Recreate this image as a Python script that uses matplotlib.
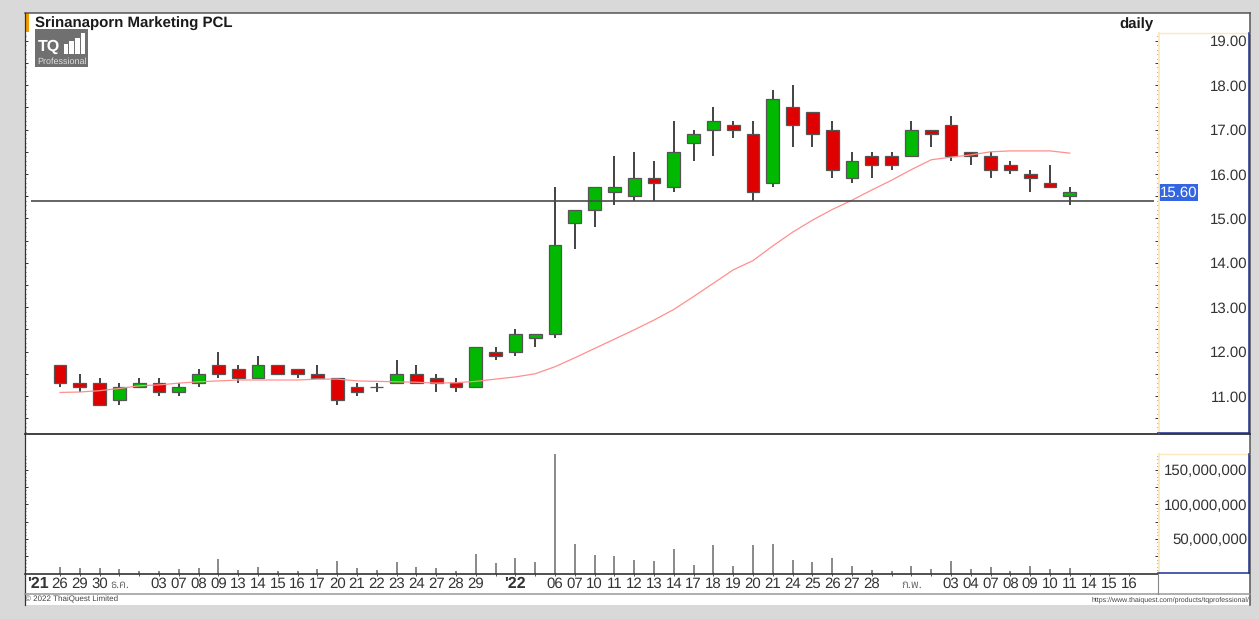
import matplotlib
matplotlib.use('Agg')
import numpy as np
import matplotlib.pyplot as plt
from matplotlib import font_manager, ft2font
from matplotlib.lines import Line2D
from matplotlib.patches import Rectangle

W, H = 1259, 619
plt.rcParams['font.family'] = ['Liberation Sans', 'Noto Sans', 'DejaVu Sans']
plt.rcParams['text.hinting'] = 'none'
plt.rcParams['text.hinting_factor'] = 1

# any installed family with Thai letters, for the month labels
thai_family = []
for f in font_manager.fontManager.ttflist:
    try:
        if 0x0E01 in ft2font.FT2Font(f.fname).get_charmap():
            thai_family.append(f.name)
    except Exception:
        pass

# daily candles, index 0 = first session
opens = [11.7, 11.3, 11.3, 10.9, 11.2, 11.3, 11.1, 11.3, 11.7, 11.6, 11.4, 11.7, 11.6, 11.5, 11.4, 11.2, 11.2, 11.3,
         11.5, 11.4, 11.3, 11.2, 12.0, 12.0, 12.3, 12.4, 14.9, 15.2, 15.6, 15.5, 15.9, 15.7, 16.7, 17.0, 17.1, 16.9,
         15.8, 17.5, 17.4, 17.0, 15.9, 16.4, 16.4, 16.4, 17.0, 17.1, 16.5, 16.4, 16.2, 16.0, 15.8, 15.5]
closes = [11.3, 11.2, 10.8, 11.2, 11.3, 11.1, 11.2, 11.5, 11.5, 11.4, 11.7, 11.5, 11.5, 11.4, 10.9, 11.1, 11.2, 11.5,
          11.3, 11.3, 11.2, 12.1, 11.9, 12.4, 12.4, 14.4, 15.2, 15.7, 15.7, 15.9, 15.8, 16.5, 16.9, 17.2, 17.0, 15.6,
          17.7, 17.1, 16.9, 16.1, 16.3, 16.2, 16.2, 17.0, 16.9, 16.4, 16.4, 16.1, 16.1, 15.9, 15.7, 15.6]
highs = [11.7, 11.5, 11.4, 11.3, 11.4, 11.4, 11.3, 11.6, 12.0, 11.7, 11.9, 11.7, 11.6, 11.7, 11.4, 11.3, 11.3, 11.8,
         11.7, 11.5, 11.4, 12.1, 12.1, 12.5, 12.4, 15.7, 15.2, 15.7, 16.4, 16.5, 16.3, 17.2, 17.0, 17.5, 17.2, 17.2,
         17.9, 18.0, 17.4, 17.2, 16.5, 16.5, 16.5, 17.2, 17.0, 17.3, 16.5, 16.5, 16.3, 16.1, 16.2, 15.7]
lows = [11.2, 11.1, 10.8, 10.8, 11.2, 11.0, 11.0, 11.2, 11.4, 11.3, 11.4, 11.5, 11.4, 11.4, 10.8, 11.0, 11.1, 11.3,
        11.3, 11.1, 11.1, 11.2, 11.8, 11.9, 12.1, 12.3, 14.3, 14.8, 15.3, 15.4, 15.4, 15.6, 16.3, 16.4, 16.8, 15.4,
        15.7, 16.6, 16.6, 15.9, 15.8, 15.9, 16.1, 16.4, 16.6, 16.3, 16.2, 15.9, 16.0, 15.6, 15.7, 15.3]
moving_avg = [11.08, 11.09, 11.12, 11.17, 11.23, 11.25, 11.29, 11.32, 11.34, 11.36, 11.36, 11.36, 11.36, 11.38, 11.38,
              11.34, 11.33, 11.32, 11.31, 11.29, 11.30, 11.33, 11.38, 11.43, 11.50, 11.66, 11.86, 12.07, 12.28, 12.49,
              12.71, 12.95, 13.24, 13.54, 13.84, 14.05, 14.38, 14.69, 14.96, 15.20, 15.41, 15.64, 15.86, 16.10, 16.32,
              16.38, 16.43, 16.50, 16.52, 16.52, 16.52, 16.47]
volumes = [10, 8, 8, 6, 4, 4, 6, 8, 21, 5, 10, 3, 4, 7, 18, 8, 5, 16, 10, 8, 3, 28, 15, 22, 16, 172, 42, 27, 25, 19, 18,
           35, 13, 41, 11, 41, 43, 20, 17, 22, 11, 5, 3, 11, 7, 18, 6, 9, 4, 11, 7, 8]
date_labels = ['26', '29', '30', '', '', '03', '07', '08', '09', '13', '14', '15', '16', '17', '20', '21', '22', '23',
               '24', '27', '28', '29', '', '', '', '06', '07', '10', '11', '12', '13', '14', '17', '18', '19', '20',
               '21', '24', '25', '26', '27', '28', '', '', '', '03', '04', '07', '08', '09', '10', '11', '14', '15',
               '16']
month_labels = {3: 'ธ.ค.', 43: 'ก.พ.'}
year_labels = {-1.1: "'21", 23: "'22"}
support = 15.4
last_price = '15.60'
price_ticks = [11, 12, 13, 14, 15, 16, 17, 18, 19]
vol_ticks = [50, 100, 150]


def fx(px):
    return px / W


def fy(py):
    return 1 - py / H


def hline(x0, x1, y, color, lw=1.0):
    fig.add_artist(Line2D([fx(x0), fx(x1)], [fy(y), fy(y)], color=color, lw=lw, transform=fig.transFigure))


def vline(x, y0, y1, color, lw=1.0):
    fig.add_artist(Line2D([fx(x), fx(x)], [fy(y0), fy(y1)], color=color, lw=lw, transform=fig.transFigure))


def box(x0, y0, x1, y1, color, zorder=1):
    fig.add_artist(Rectangle((fx(x0), fy(y1)), (x1 - x0) / W, (y1 - y0) / H, color=color, lw=0, zorder=zorder,
                             transform=fig.transFigure))


def pane(y0, y1):
    a = fig.add_axes([fx(25), fy(y1), (1158 - 25) / W, (y1 - y0) / H])
    a.patch.set_alpha(0)
    for s in a.spines.values():
        s.set_visible(False)
    # 19.8 px per session, session 0 sits at x=60
    a.set_xlim((25 - 60) / 19.8, (1158 - 60) / 19.8)
    return a


fig = plt.figure(figsize=(W / 100, H / 100), dpi=100, facecolor='#d9d9d9')
box(25, 13, 1250, 605, 'white', zorder=-1)

x = np.arange(len(opens))
opens = np.array(opens)
closes = np.array(closes)

# price pane, 44.4 px per baht with 11.00 at y=396
ax = pane(13, 433)
ax.set_ylim(11 - (433 - 396) / 44.4, 11 + (396 - 13) / 44.4)
colors = ['#00b900' if c > o else '#e00000' for o, c in zip(opens, closes)]
ax.vlines(x, lows, highs, color='#222222', lw=1.2, zorder=2)
ax.bar(x, closes - opens, bottom=opens, width=0.64, color=colors, edgecolor='#555555', lw=0.9, zorder=3)
ax.plot(x, moving_avg, color='#ff8f8f', lw=0.9, zorder=4)
ax.hlines(support, (31 - 60) / 19.8, (1154 - 60) / 19.8, color='#4a4a4a', lw=1.2, zorder=5)
ax.set_xticks([])
ax.yaxis.tick_right()
half_ticks = np.arange(10.5, 19.01, 0.5)
ax.set_yticks(half_ticks, [('%.2f' % t if t in price_ticks else '') for t in half_ticks])
ax.set_yticks(np.arange(10.2, 19.15, 0.1), minor=True)
ax.tick_params(axis='y', which='major', left=True, right=True, direction='in', length=2.5, width=0.7,
               color='#333333', labelcolor='#333333', labelsize=10.5, pad=64.2)
ax.tick_params(axis='y', which='minor', left=True, right=True, direction='in', length=0.9, width=0.6, color='#555555')
for t in ax.get_yticklabels():
    t.set_ha('right')

# volume pane, 34.6 px per 50 million
vax = pane(433, 573.5)
vax.set_ylim(0, (573.5 - 433) / 34.6 * 50)
vax.vlines(x, 0, volumes, color='#808080', lw=1.3)
vax.set_xticks([])
vax.yaxis.tick_right()
vol_major = np.arange(25, 151, 25)
vax.set_yticks(vol_major, [('{:,}'.format(t * 1000000) if t in vol_ticks else '') for t in vol_major])
vax.set_yticks(np.arange(5, 171, 5), minor=True)
vax.tick_params(axis='y', which='major', left=True, right=True, direction='in', length=2.5, width=0.7,
                color='#333333', labelcolor='#333333', labelsize=10.5, pad=64.2)
vax.tick_params(axis='y', which='minor', left=True, right=True, direction='in', length=0.9, width=0.6, color='#555555')
for t in vax.get_yticklabels():
    t.set_ha('right')

# date strip
dax = pane(574, 594)
dax.set_ylim(0, 1)
dax.set_yticks([])
dax.set_xticks(np.arange(len(date_labels)))
dax.xaxis.tick_top()
dax.tick_params(axis='x', direction='in', length=1.5, width=0.7, color='#555555', labeltop=False)
for i, lab in enumerate(date_labels):
    dax.text(i, 0.5, lab, ha='center', va='center', fontsize=10.8, color='#333333')
for i, lab in month_labels.items():
    dax.text(i, 0.47, lab, ha='center', va='center', fontsize=8, color='#666666',
             family=sorted(set(thai_family))[:1] + ['DejaVu Sans'])
for i, lab in year_labels.items():
    dax.text(i, 0.5, lab, ha='center', va='center', fontsize=11.2, fontweight='bold', color='#333333')

# frame lines
hline(25, 1250, 13, '#555555', 1.1)
vline(25, 13, 605, '#333333', 0.9)
vline(1250, 13, 605, '#555555', 1.1)
hline(25, 1250, 433.5, '#333333', 1.3)
hline(25, 1158, 574, '#333333', 1.2)
hline(25, 1250, 594, '#999999', 1.1)
vline(1158, 574, 594, '#888888', 0.8)
# scale borders
for top, bot in [(33, 433), (454, 573)]:
    hline(1158, 1249, top, '#fbe8bd', 1.0)
    vline(1158.5, top, bot, '#fbe8bd', 1.3)
    vline(1249, top, bot, '#1c2f8f', 1.1)
    hline(1158, 1249, bot, '#1c2f8f', 1.1)
box(25, 13, 29, 32, '#f59a00')

# last price flag
box(1159, 184, 1198, 201, '#3366e0')
fig.text(fx(1178.5), fy(192.5), last_price, ha='center', va='center', fontsize=10.5, color='white')

# header
fig.text(fx(35), fy(24), 'Srinanaporn Marketing PCL', ha='left', va='center', fontsize=11.0, fontweight='bold',
         color='#1a1a1a')
fig.text(fx(1119), fy(24), 'daily', ha='left', va='center', fontsize=11.0, fontweight='bold', color='#1a1a1a')

# logo
box(35, 29, 88, 67, '#707070')
fig.text(fx(38), fy(47), 'TQ', ha='left', va='center', fontsize=11.5, fontweight='bold', color='white')
for bx, by in [(64, 44), (69, 41), (75, 38), (81, 33)]:
    box(bx, by, bx + 4.5, 54, 'white')
fig.text(fx(37.5), fy(61.5), 'Professional', ha='left', va='center', fontsize=6.4, color='#dddddd')

# footer
fig.text(fx(25), fy(599.5), '© 2022 ThaiQuest Limited', ha='left', va='center', fontsize=5.8, color='#444444')
fig.text(fx(1249), fy(599.5), 'https://www.thaiquest.com/products/tqprofessional/', ha='right', va='center',
         fontsize=5.0, color='#444444')

fig.savefig('out.png', dpi=100, facecolor=fig.get_facecolor())
